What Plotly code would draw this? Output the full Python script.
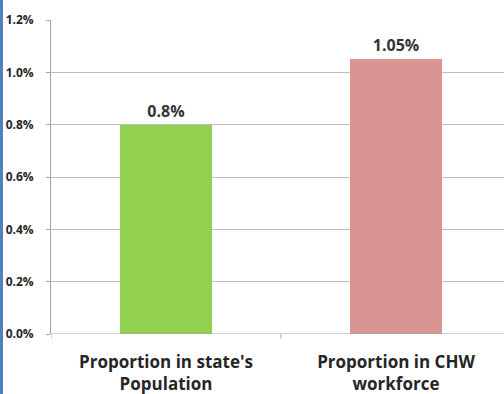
import plotly.graph_objects as go

categories = ["Proportion in state's<br>Population", "Proportion in CHW<br>workforce"]
values = [0.8, 1.05]
labels = ["0.8%", "1.05%"]
colors = ["#92d050", "#d99594"]
tickvals = [0, 0.2, 0.4, 0.6, 0.8, 1.0, 1.2]
ticktext = ["0.0%", "0.2%", "0.4%", "0.6%", "0.8%", "1.0%", "1.2%"]

FONT = "Open Sans"

fig = go.Figure()
fig.add_trace(go.Bar(
    x=[0, 1], y=values, width=0.4,
    marker=dict(color=colors, line=dict(width=0)),
    text=labels, textposition="outside", cliponaxis=False,
    textfont=dict(family=FONT, size=16, color="#333333", weight="bold"),
))

fig.update_layout(
    width=504, height=394,
    margin=dict(l=51, r=0, t=20, b=60),
    paper_bgcolor="white", plot_bgcolor="white",
    showlegend=False, bargap=0,
    xaxis=dict(
        range=[-0.5, 1.4696], tickvals=[0, 1], ticktext=categories,
        showgrid=False, zeroline=False, showline=False,
        ticks="", ticklabelstandoff=16,
        tickfont=dict(family=FONT, size=17, color="#262626", weight="bold"),
        fixedrange=True,
    ),
    yaxis=dict(
        range=[0, 1.2], tickvals=tickvals, ticktext=ticktext,
        showgrid=True, gridcolor="#bfbfbf", gridwidth=1,
        zeroline=False, showline=True, linecolor="#a6a6a6", linewidth=1,
        ticks="outside", ticklen=4, tickcolor="#a6a6a6",
        ticklabelstandoff=10,
        tickfont=dict(family=FONT, size=12, color="#262626", weight="bold"),
    ),
    shapes=[
        dict(type="line", xref="x", yref="y", x0=-0.5, x1=1.4696, y0=0, y1=0,
             line=dict(color="#a6a6a6", width=1)),
        dict(type="line", xref="x", yref="paper", x0=0.5, x1=0.5, y0=0, y1=-0.015,
             line=dict(color="#a6a6a6", width=1)),
        dict(type="line", xref="x", yref="paper", x0=-0.5, x1=-0.5, y0=0, y1=-0.015,
             line=dict(color="#a6a6a6", width=1)),
        dict(type="rect", xref="paper", yref="paper",
             x0=-51/453, x1=-48/453, y0=-60/314, y1=1 + 20/314,
             fillcolor="#4f81bd", line=dict(width=0)),
    ],
)

fig.write_html("out.html")
